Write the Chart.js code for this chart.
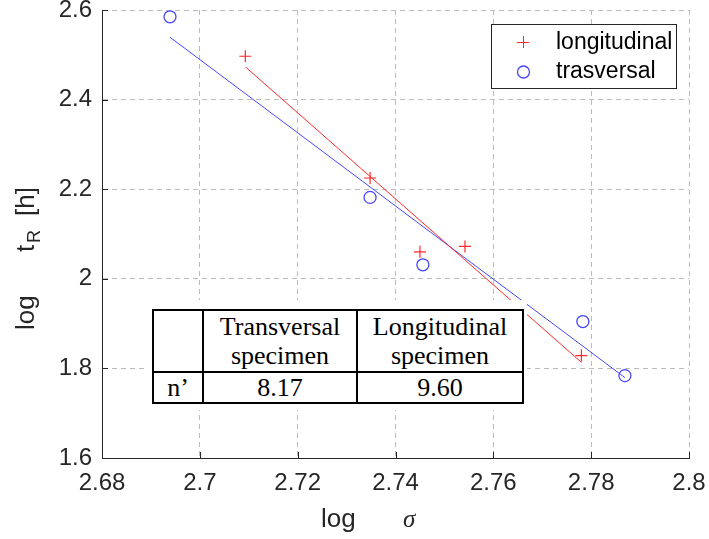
<!DOCTYPE html>
<html>
<head>
<meta charset="utf-8">
<script src="https://cdn.jsdelivr.net/npm/chart.js@4"></script>
<style>
body { margin: 0; background: #fff; }
#wrap { position: relative; width: 709px; height: 539px; }
#note { position: absolute; left: 147px; top: 300px; width: 380px; height: 110px; background: #fff; }
#note table { position: absolute; left: 5px; top: 9px; border-collapse: collapse; font-family: "Liberation Serif", serif; font-size: 26px; color: #000; }
#note td { border: 2px solid #000; text-align: center; padding: 0; line-height: 29px; }
</style>
</head>
<body>
<div id="wrap">
<canvas id="graph" width="709" height="539"></canvas>
<div id="note">
<table>
<tr style="height:62px"><td style="width:48px"></td><td style="width:152px">Transversal<br>specimen</td><td style="width:164px">Longitudinal<br>specimen</td></tr>
<tr style="height:31px"><td>n’</td><td>8.17</td><td>9.60</td></tr>
</table>
</div>
</div>
<script>
const xTicks = [2.68, 2.7, 2.72, 2.74, 2.76, 2.78, 2.8];
const xTickLabels = ["2.68", "2.7", "2.72", "2.74", "2.76", "2.78", "2.8"];
const yTicks = [1.6, 1.8, 2, 2.2, 2.4, 2.6];
const yTickLabels = ["1.6", "1.8", "2", "2.2", "2.4", "2.6"];

// measured points
const longX = [2.7093, 2.7348, 2.7450, 2.7542, 2.7780];
const longY = [2.4968, 2.2250, 2.0603, 2.0722, 1.8286];
const trasX = [2.6939, 2.7348, 2.7456, 2.7783, 2.7869];
const trasY = [2.5848, 2.1817, 2.0313, 1.9046, 1.7839];

// fitted lines (end points)
const longFitX = [2.7094, 2.7780];
const longFitY = [2.4722, 1.8136];
const trasFitX = [2.6939, 2.7869];
const trasFitY = [2.5392, 1.7794];

const red = "rgb(255,40,40)";
const blue = "rgb(70,70,255)";
const axisCol = "#262626";

function toXY(xs, ys) {
	return xs.map((x, i) => {
		return {x: x, y: ys[i]};
	});
}

const extras = {
	id: "extras",
	afterDraw(chart) {
		let ctx = chart.ctx;
		let xs = chart.scales.x;
		let ys = chart.scales.y;
		let a = chart.chartArea;
		ctx.save();
		// inward ticks
		ctx.strokeStyle = axisCol;
		ctx.lineWidth = 1;
		ctx.beginPath();
		xTicks.forEach((v) => {
			let px = Math.round(xs.getPixelForValue(v)) + 0.5;
			ctx.moveTo(px, a.bottom);
			ctx.lineTo(px, a.bottom - 6);
		});
		yTicks.forEach((v) => {
			let py = Math.round(ys.getPixelForValue(v)) + 0.5;
			ctx.moveTo(a.left, py);
			ctx.lineTo(a.left + 6, py);
		});
		ctx.stroke();

		// x title
		ctx.fillStyle = axisCol;
		ctx.textBaseline = "alphabetic";
		ctx.textAlign = "left";
		ctx.font = "26px 'Liberation Sans'";
		ctx.fillText("log", 321, 527);
		ctx.font = "italic 25px 'Liberation Serif'";
		ctx.fillText("σ", 403, 527);

		// y title
		ctx.save();
		ctx.translate(34, 330);
		ctx.rotate(-Math.PI / 2);
		ctx.font = "26px 'Liberation Sans'";
		ctx.fillText("log", 0, 0);
		ctx.fillText("t", 78, 0);
		ctx.fillText("[h]", 114, 0);
		ctx.font = "18px 'Liberation Sans'";
		ctx.fillText("R", 87, 6);
		ctx.restore();

		// legend
		ctx.fillStyle = "#fff";
		ctx.fillRect(491, 24, 185, 64);
		ctx.strokeStyle = axisCol;
		ctx.strokeRect(491.5, 24.5, 185, 64);
		ctx.strokeStyle = red;
		ctx.beginPath();
		ctx.moveTo(517, 42.5);
		ctx.lineTo(529, 42.5);
		ctx.moveTo(523.5, 36);
		ctx.lineTo(523.5, 48);
		ctx.stroke();
		ctx.strokeStyle = blue;
		ctx.lineWidth = 1.3;
		ctx.beginPath();
		ctx.arc(523.5, 72, 6, 0, Math.PI * 2);
		ctx.stroke();
		ctx.fillStyle = "#000";
		ctx.font = "23px 'Liberation Sans'";
		ctx.textBaseline = "middle";
		ctx.fillText("longitudinal", 556, 43);
		ctx.fillText("trasversal", 556, 72);
		ctx.restore();
	}
};

const tickFont = {family: "Liberation Sans", size: 24};

new Chart(document.getElementById("graph"), {
	type: "scatter",
	data: {
		datasets: [
			{
				type: "line",
				data: toXY(longFitX, longFitY),
				borderColor: red,
				borderWidth: 1,
				pointRadius: 0,
				fill: false
			},
			{
				type: "line",
				data: toXY(trasFitX, trasFitY),
				borderColor: blue,
				borderWidth: 1,
				pointRadius: 0,
				fill: false
			},
			{
				label: "longitudinal",
				data: toXY(longX, longY),
				pointStyle: "cross",
				pointRadius: 6,
				borderColor: red,
				borderWidth: 1.2,
				backgroundColor: red
			},
			{
				label: "trasversal",
				data: toXY(trasX, trasY),
				pointStyle: "circle",
				pointRadius: 6,
				borderColor: blue,
				borderWidth: 1.3,
				backgroundColor: "rgba(0,0,0,0)"
			}
		]
	},
	options: {
		responsive: false,
		animation: false,
		devicePixelRatio: 1,
		layout: {padding: {top: 10, right: 20, left: 0, bottom: 0}},
		plugins: {legend: {display: false}, tooltip: {enabled: false}},
		scales: {
			x: {
				type: "linear",
				min: 2.68,
				max: 2.8,
				afterBuildTicks: (s) => {
					s.ticks = xTicks.map((v) => ({value: v}));
				},
				afterFit: (s) => {
					s.height = 81;
					s.paddingLeft = 0;
					s.paddingRight = 0;
				},
				ticks: {
					autoSkip: false,
					maxRotation: 0,
					padding: 11,
					color: axisCol,
					font: tickFont,
					callback: (v, i) => xTickLabels[i]
				},
				grid: {color: "#bcbcbc", lineWidth: 1, drawTicks: false},
				border: {color: axisCol, width: 1, dash: [5, 4]}
			},
			y: {
				type: "linear",
				min: 1.6,
				max: 2.6,
				afterBuildTicks: (s) => {
					s.ticks = yTicks.map((v) => ({value: v}));
				},
				afterFit: (s) => {
					s.width = 102;
					s.paddingTop = 0;
					s.paddingBottom = 0;
				},
				ticks: {
					autoSkip: false,
					padding: 10,
					color: axisCol,
					font: {family: "Liberation Sans", size: 24, lineHeight: 0.8},
					callback: (v, i) => yTickLabels[i]
				},
				grid: {color: "#bcbcbc", lineWidth: 1, drawTicks: false},
				border: {color: axisCol, width: 1, dash: [5, 4]}
			}
		}
	},
	plugins: [extras]
});
</script>
</body>
</html>
